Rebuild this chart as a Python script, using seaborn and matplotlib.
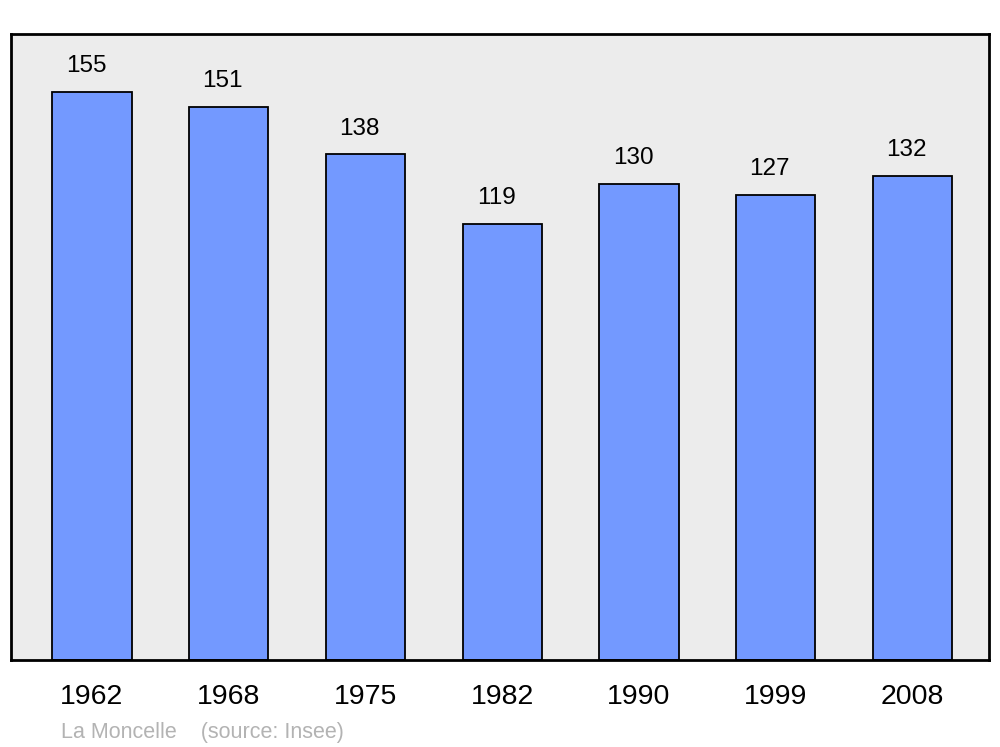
import pandas as pd
import matplotlib
matplotlib.use('Agg')
import matplotlib.pyplot as plt
import seaborn as sns

years = ['1962', '1968', '1975', '1982', '1990', '1999', '2008']
population = [155, 151, 138, 119, 130, 127, 132]

df = pd.DataFrame({'annee': years, 'pop': population})

sns.set_style('white')
plt.rcParams['font.family'] = ['Liberation Sans', 'DejaVu Sans']

fig = plt.figure(figsize=(10, 7.47), dpi=100)
ax = fig.add_axes([0.011, 0.1165, 0.978, 0.838])
ax.set_facecolor('#ececec')

sns.barplot(data=df, x='annee', y='pop', color='#7399ff', saturation=1,
            width=0.58, edgecolor='black', linewidth=1.3, ax=ax)

# etiquettes des valeurs
for i, v in enumerate(population):
    ax.annotate(str(v), (i, v), xytext=(-4.3, 18.5), textcoords='offset points',
                ha='center', va='center', fontsize=17.5, color='black')

ax.set_xlim(-0.592, 6.56)
ax.set_ylim(0, 170.8)
ax.set_yticks([])
ax.set_xlabel('')
ax.set_ylabel('')
ax.tick_params(axis='x', length=0, labelsize=20.5, pad=17.5, labelcolor='black')
for s in ax.spines.values():
    s.set_visible(True)
    s.set_color('black')
    s.set_linewidth(2)

fig.text(0.061, 0.02, 'La Moncelle    (source: Insee)', color='#b3b3b3',
         fontsize=15.5, ha='left', va='center')

fig.savefig('out.png', dpi=100)
